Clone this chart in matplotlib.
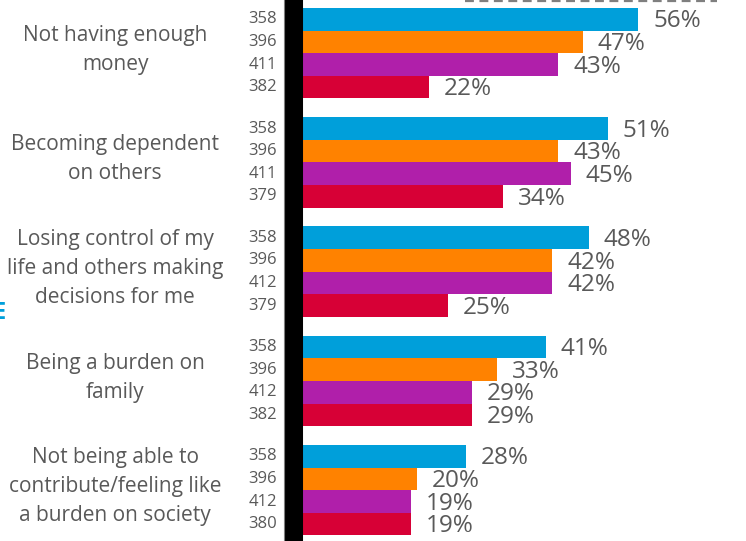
import numpy as np
import matplotlib.pyplot as plt

plt.rcParams['font.family'] = ['Open Sans', 'DejaVu Sans']

# concerns, one group of four bars each
categories = [
    'Not having enough\nmoney',
    'Becoming dependent\non others',
    'Losing control of my\nlife and others making\ndecisions for me',
    'Being a burden on\nfamily',
    'Not being able to\ncontribute/feeling like\na burden on society',
]
values = [
    [56, 47, 43, 22],
    [51, 43, 45, 34],
    [48, 42, 42, 25],
    [41, 33, 29, 29],
    [28, 20, 19, 19],
]
bases = [
    [358, 396, 411, 382],
    [358, 396, 411, 379],
    [358, 396, 412, 379],
    [358, 396, 412, 382],
    [358, 396, 412, 380],
]
colors = ['#009FDA', '#FF8200', '#B01FAA', '#D70036']
grey = '#595959'

fig = plt.figure(figsize=(7.46, 5.41), dpi=100)
ax = fig.add_axes([0, 0, 1, 1])

bar_h = 0.207
for g, (vals, ns) in enumerate(zip(values, bases)):
    for j, (v, n) in enumerate(zip(vals, ns)):
        y = g + (j - 1.5) * bar_h
        ax.barh(y, v, height=bar_h, color=colors[j], zorder=2)
        ax.text(v + 2.4, y + 0.02, f'{v}%', ha='left', va='center',
                fontsize=17.5, color=grey)
        ax.text(-2.8, y, str(n), ha='right', va='center', fontsize=12, color=grey)
    ax.text(-29.1, g - 0.03, categories[g], ha='center', va='center',
            fontsize=15, color=grey, linespacing=1.5)

# thick axis line and thin rule beside it
ax.axvline(0, color='black', lw=13, zorder=3)
ax.axvline(-1.7, color='#7f7f7f', lw=0.8, zorder=3)

# edge of the legend box
ax.plot([27.8, 68.8], [-0.478, -0.478], color='#7f7f7f', lw=1.6,
        dashes=(4, 2.5), zorder=1)
ax.text(-46.8, 2.38, 'E', ha='right', va='center', fontsize=17,
        color='#009FDA', fontweight='bold')

ax.set_xlim(-47.8, 73.5)
ax.set_ylim(4.465, -0.487)
ax.axis('off')

fig.savefig('out.png', dpi=100)
